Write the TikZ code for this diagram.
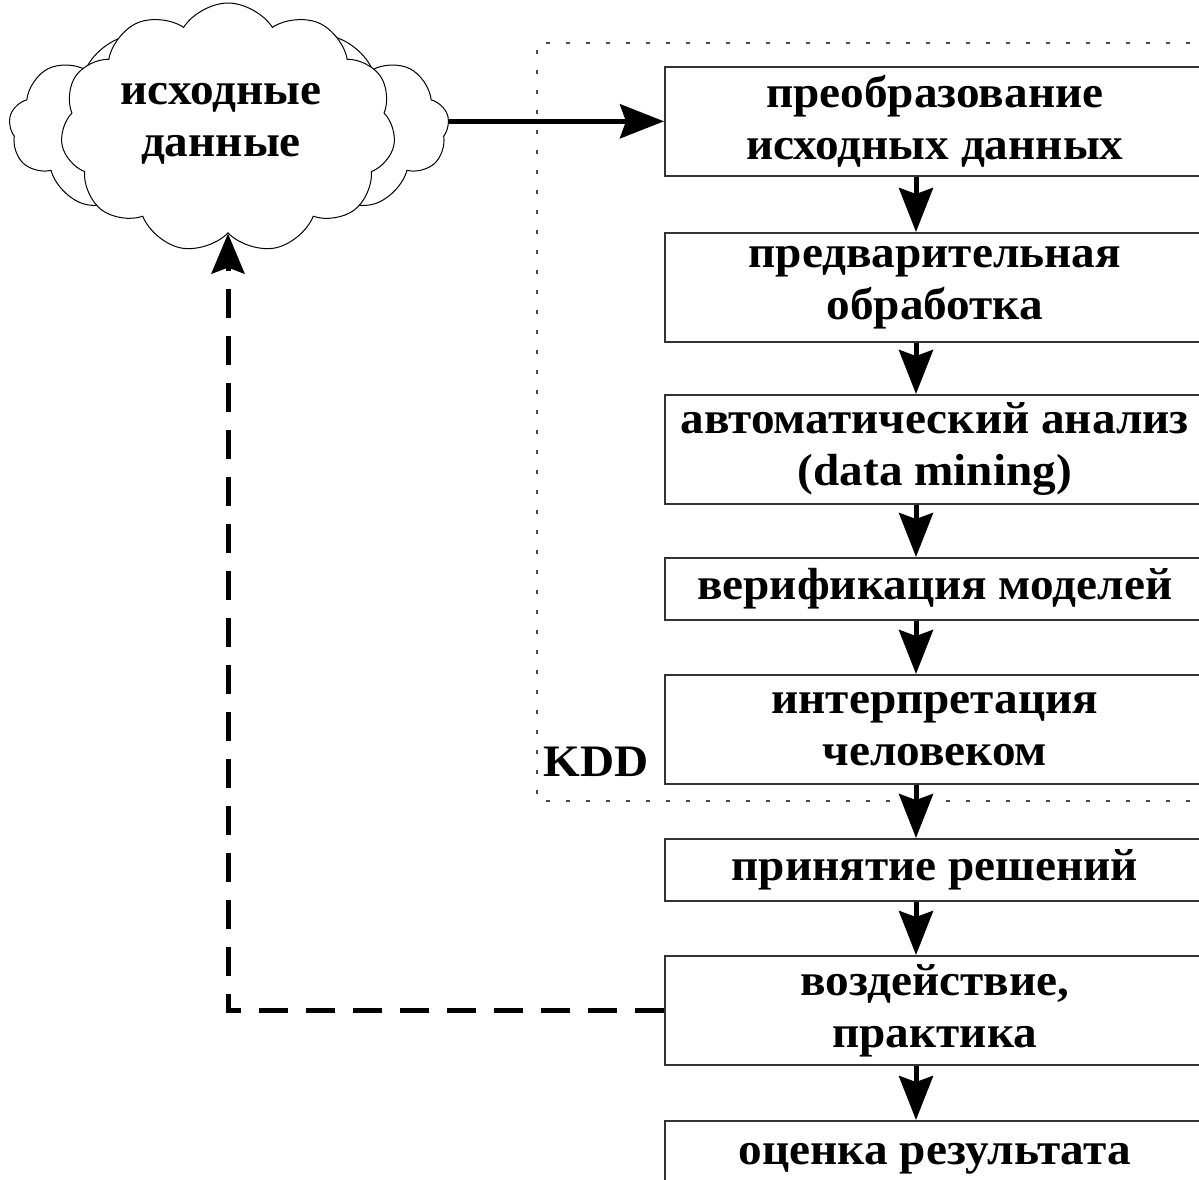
\documentclass[tikz,border=0pt]{standalone}
\usepackage{fontspec}
\setmainfont{Liberation Serif}[FakeStretch=1.05]
\usetikzlibrary{shapes.symbols,arrows.meta}
\begin{document}
\begin{tikzpicture}[x=1pt,y=-1pt,
  bigfont/.style={font=\bfseries\fontsize{45}{52}\selectfont},
  txt/.style={bigfont, align=center, inner sep=0pt},
  stage/.style={bigfont, draw=black!80, line width=1.6pt, fill=white, anchor=north west,
     minimum width=540pt, inner sep=0pt, align=center},
  tall/.style={stage, minimum height=109pt},
  short/.style={stage, minimum height=62pt},
  flow/.style={line width=5pt, -{Stealth[length=44pt,width=34pt,inset=6pt]}},
  feedback/.style={line width=5pt, dash pattern=on 29pt off 18pt, -{Stealth[length=40pt,width=33pt,inset=6pt]}},
  kddframe/.style={draw=black!70, line width=1.2pt, dash pattern=on 4pt off 16pt},
  puff/.style={cloud, cloud puffs=13, cloud puff arc=115, draw=black, line width=1pt, fill=white, inner sep=0pt}
]
\useasboundingbox (0,0) rectangle (1199,1180);
% KDD frame
\draw[kddframe] (1210,43) -- (537,43) -- (537,801) -- (1210,801);
\node[txt, anchor=center] (kdd) at (596,762) {KDD};

% stages
\node[tall]  (b1) at (664,66)   {преобразование\\исходных данных};
\node[tall]  (b2) at (664,232)  {предварительная\\обработка};
\node[tall]  (b3) at (664,394)  {автоматический анализ\\(data mining)};
\node[short] (b4) at (664,557)  {верификация моделей};
\node[tall]  (b5) at (664,674)  {интерпретация\\человеком};
\node[short] (b6) at (664,838)  {принятие решений};
\node[tall]  (b7) at (664,955)  {воздействие,\\практика};
\node[short, minimum height=76pt] (b8) at (664,1120) {оценка результата};

% cloud
\node[puff, minimum width=440pt, minimum height=205pt] (srcback) at (229,127) {};
\node[puff, cloud puffs=11, minimum width=335pt, minimum height=250pt] (src) at (228,128) {};
\node[txt] (srctext) at (221,124) {исходные\\данные};

% arrows
\coordinate (ax) at (916,0);
\draw[flow] (b1.west -| srcback.east) -- (b1.west);
\draw[flow] (b1.south -| ax) -- (b2.north -| ax);
\draw[flow] (b2.south -| ax) -- (b3.north -| ax);
\draw[flow] (b3.south -| ax) -- (b4.north -| ax);
\draw[flow] (b4.south -| ax) -- (b5.north -| ax);
\draw[flow] (b5.south -| ax) -- (b6.north -| ax);
\draw[flow] (b6.south -| ax) -- (b7.north -| ax);
\draw[flow] (b7.south -| ax) -- (b8.north -| ax);
\draw[feedback] (b7.west) -| (src.south);
\end{tikzpicture}
\end{document}
